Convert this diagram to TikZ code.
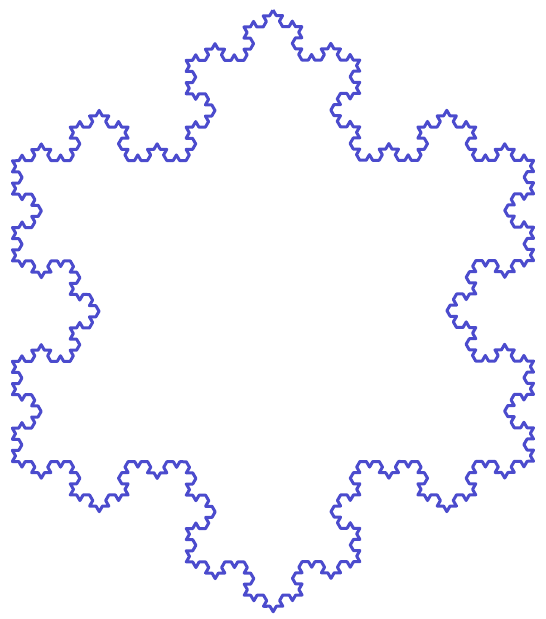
\documentclass[tikz,border=0pt]{standalone}
\usetikzlibrary{decorations.fractals}
\definecolor{flakeblue}{RGB}{75, 75, 205}

\begin{document}
\begin{tikzpicture}[
        x=0.5pt, y=-0.5pt,
        flake/.style={draw=flakeblue, line width=1.5pt, line join=round,
                      decoration=Koch snowflake},
    ]
    \useasboundingbox (0,0) rectangle (545,619);
    % triangle corners, clockwise so the bumps point outward
    \coordinate (top) at (273,10);
    \coordinate (right) at (533.7,461.5);
    \coordinate (left) at (12.3,461.5);

    \draw[flake] decorate{decorate{decorate{decorate{
        (top) -- (right) -- (left) -- (top)}}}};
\end{tikzpicture}
\end{document}
